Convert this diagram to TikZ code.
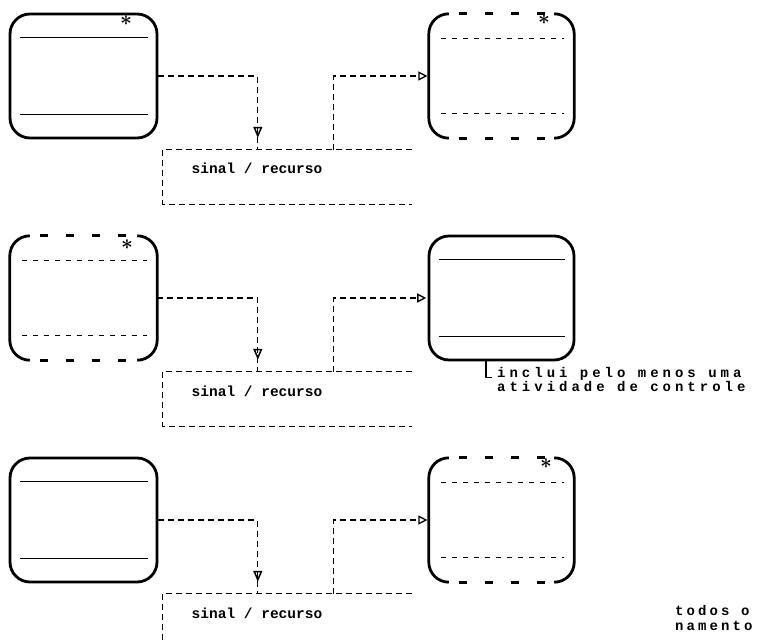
\documentclass[tikz,border=0pt]{standalone}
\usepackage{fontspec}
\setmonofont{Liberation Mono}
\newfontfamily\annfont[LetterSpace=28.5]{Liberation Mono}
\newfontfamily\botfont[LetterSpace=22]{Liberation Mono}
\usetikzlibrary{arrows.meta,decorations.markings}
\newcommand\dashedgebox[1]{%
  \draw[boxedge] ([xshift=20pt]#1.north west) arc[start angle=90,end angle=180,radius=20pt]
    -- ([yshift=20pt]#1.south west) arc[start angle=180,end angle=270,radius=20pt];
  \draw[boxedge] ([xshift=-20pt]#1.south east) arc[start angle=270,end angle=360,radius=20pt]
    -- ([yshift=-20pt]#1.north east) arc[start angle=0,end angle=90,radius=20pt];
  \draw[boxdash] ([xshift=30pt]#1.north west) -- ([xshift=-28pt]#1.north east);
  \draw[boxdash] ([xshift=30pt]#1.south west) -- ([xshift=-28pt]#1.south east);
  \draw[innerdash] ([xshift=12pt,yshift=-25pt]#1.north west) -- ([xshift=-10pt,yshift=-25pt]#1.north east);
  \draw[innerdash] ([xshift=12pt,yshift=25pt]#1.south west) -- ([xshift=-10pt,yshift=25pt]#1.south east);
}
\newcommand\solidinner[1]{%
  \draw[innersolid] ([xshift=11pt,yshift=-25pt]#1.north west) -- ([xshift=-10pt,yshift=-25pt]#1.north east);
  \draw[innersolid] ([xshift=11pt,yshift=25pt]#1.south west) -- ([xshift=-10pt,yshift=25pt]#1.south east);
}
\begin{document}
\begin{tikzpicture}[x=1pt,y=1pt,
  boxsolid/.style={draw, line width=2.8pt, rounded corners=20pt, minimum height=124pt, inner sep=0pt},
  boxghost/.style={draw=none, minimum height=124pt, inner sep=0pt},
  leftw/.style={minimum width=147pt},
  rightw/.style={minimum width=145pt},
  boxedge/.style={line width=2.8pt},
  boxdash/.style={line width=2.8pt, dash pattern=on 8pt off 18pt},
  innersolid/.style={line width=1.3pt},
  innerdash/.style={line width=1.3pt, dash pattern=on 5pt off 6pt},
  conn/.style={line width=1.2pt, dash pattern=on 6pt off 4pt},
  sigframe/.style={draw=none, minimum width=249pt, minimum height=54pt, inner sep=0pt},
  siglabel/.style={font=\ttfamily\bfseries\fontsize{14.5}{16}\selectfont, inner sep=0pt, anchor=base},
  rtip/.style={-{Triangle[open,length=9pt,width=9pt,line width=1.3pt]}, shorten >=1.4pt},
  dtip/.style={postaction={decorate, decoration={markings,
      mark=at position -12pt with {\arrow[solid,line width=1.5pt]{Triangle[open,length=11pt,width=9pt]}}}}},
  astk/.style={font=\boldmath\fontsize{22}{22}\selectfont, inner sep=0pt},
  annot/.style={font=\annfont\bfseries\fontsize{14}{14}\selectfont, inner sep=0pt, anchor=base west},
  bottxt/.style={font=\botfont\bfseries\fontsize{14}{14}\selectfont, inner sep=0pt, anchor=base west},
  bracket/.style={line width=1.3pt}
]
\path[use as bounding box, clip] (0,0) rectangle (759,-644);

% ---------------- row 1 (T=14)
\node[boxsolid, leftw] (lb1) at (83.5,-76) {};
\solidinner{lb1}
\node[astk] (ak1) at (126,-21) {$\ast$};
\node[boxghost, rightw] (rb1) at (501.5,-76) {};
\dashedgebox{rb1}
\node[astk] (ak2) at (544,-20) {$\ast$};
\node[sigframe] (s1) at (287.5,-177) {};
\draw[conn] (s1.north east) -- (s1.north west) -- (s1.south west) -- (s1.south east);
\node[siglabel] (t1) at (257,-174) {sinal / recurso};
\draw[conn, dtip] (lb1.east) -| ([xshift=95pt]s1.north west);
\draw[conn, rtip] ([xshift=171pt]s1.north west) |- (rb1.west);

% ---------------- row 2 (T=236)
\node[boxghost, leftw] (lb2) at (83.5,-298) {};
\dashedgebox{lb2}
\node[astk] (ak3) at (127,-245) {$\ast$};
\node[boxsolid, rightw] (rb2) at (501.5,-298) {};
\solidinner{rb2}
\node[sigframe] (s2) at (287.5,-399) {};
\draw[conn] (s2.north east) -- (s2.north west) -- (s2.south west) -- (s2.south east);
\node[siglabel] (t2) at (257,-396) {sinal / recurso};
\draw[conn, dtip] (lb2.east) -| ([xshift=95pt]s2.north west);
\draw[conn, rtip] ([xshift=171pt]s2.north west) |- (rb2.west);
\node[annot] (an1) at (497,-377) {inclui pelo menos uma};
\node[annot] (an2) at (497,-391) {atividade de controle};
\draw[bracket, shorten >=5pt] ([xshift=-15.5pt]rb2.south) |- ([yshift=-4pt]an1.west);

% ---------------- row 3 (T=458)
\node[boxsolid, leftw] (lb3) at (83.5,-520) {};
\solidinner{lb3}
\node[boxghost, rightw] (rb3) at (501.5,-520) {};
\dashedgebox{rb3}
\node[astk] (ak4) at (546,-464) {$\ast$};
\node[sigframe] (s3) at (287.5,-621) {};
\draw[conn] (s3.north east) -- (s3.north west) -- (s3.south west) -- (s3.south east);
\node[siglabel] (t3) at (257,-618) {sinal / recurso};
\draw[conn, dtip] (lb3.east) -| ([xshift=95pt]s3.north west);
\draw[conn, rtip] ([xshift=171pt]s3.north west) |- (rb3.west);
\node[bottxt] (b1) at (675,-615) {todos o};
\node[bottxt] (b2) at (675,-630) {namento};
\end{tikzpicture}
\end{document}
